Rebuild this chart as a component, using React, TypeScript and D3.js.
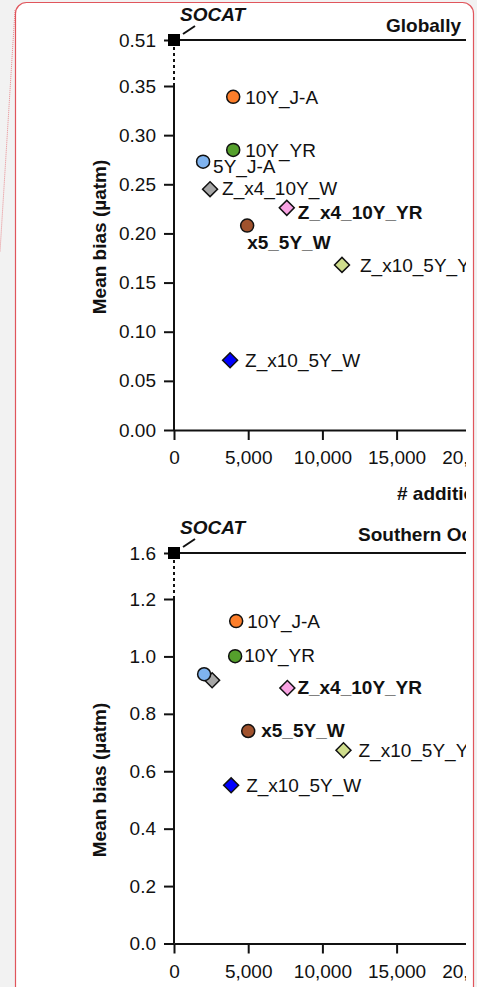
import * as d3 from "d3";
import { useEffect, useRef } from "react";

// runs shown in both panels
const runNames = ["10Y_J-A", "10Y_YR", "5Y_J-A", "Z_x4_10Y_W", "Z_x4_10Y_YR", "x5_5Y_W", "Z_x10_5Y_YR", "Z_x10_5Y_W"];
const runShapes = ["circle", "circle", "circle", "diamond", "diamond", "circle", "diamond", "diamond"];
const runColors = ["#fd7e2a", "#55a02c", "#7fb3ef", "#a6a6a6", "#f9a3e3", "#a0522d", "#cfdd8c", "#0000ff"];
const boldRuns = ["Z_x4_10Y_YR", "x5_5Y_W"];

// # additional observations / mean bias (uatm)
const globalObs = [3990, 3990, 1960, 2430, 7600, 4930, 11320, 3780];
const globalBias = [0.339, 0.285, 0.273, 0.245, 0.226, 0.208, 0.168, 0.071];
const southernObs = [4190, 4120, 2030, 2570, 7640, 5000, 11420, 3850];
const southernBias = [1.123, 1.001, 0.938, 0.917, 0.89, 0.74, 0.673, 0.551];
const southernLabelled = [true, true, false, false, true, true, true, true];

const socatGlobal = 0.51;
const socatSouthern = 1.6;

const xTicks = [0, 5000, 10000, 15000, 20000];
const globalTicks = [0, 0.05, 0.1, 0.15, 0.2, 0.25, 0.3, 0.35];
const southernTicks = [0, 0.2, 0.4, 0.6, 0.8, 1.0, 1.2];

// label offsets from the marker (layout only)
const globalOffsets = [[12, 7], [12, 7], [10, 11], [12, 6], [11, 11], [0, 23], [18, 7], [15, 7]];
const southernOffsets = [[11, 7], [9, 6], [0, 0], [0, 0], [10, 6], [13, 6], [15, 7], [15, 7]];

const W = 477;
const H = 987;
const FONT = "'Liberation Sans', Arial, sans-serif";

const App = () => {
    const svgRef = useRef(null);

    useEffect(() => {
        const svg = d3.select(svgRef.current);
        svg.selectAll("*").remove();

        svg.append("rect").attr("width", W).attr("height", H).attr("fill", "#f2f2f2");

        // card
        svg.append("line")
            .attr("x1", 15).attr("y1", 10).attr("x2", 0).attr("y2", 252)
            .attr("stroke", "#e98a8f").attr("stroke-width", 1)
            .attr("stroke-dasharray", "1,1");
        svg.append("rect")
            .attr("x", 15.5).attr("y", 2.5)
            .attr("width", 458).attr("height", 1010)
            .attr("rx", 11)
            .attr("fill", "#ffffff")
            .attr("stroke", "#e0555c").attr("stroke-width", 1.2);

        svg.append("clipPath").attr("id", "plotclip")
            .append("rect").attr("x", 0).attr("y", 0).attr("width", 466).attr("height", H + 100);

        const root = svg.append("g")
            .attr("clip-path", "url(#plotclip)")
            .attr("font-family", FONT);

        const x = d3.scaleLinear().domain([0, 20000]).range([174, 470.8]);

        const panels = [
            {
                title: "Globally", titleX: 461, titleAnchor: "end", titleY: 32,
                obs: globalObs, bias: globalBias, socat: socatGlobal,
                ticks: globalTicks, fmt: d3.format(".2f"),
                yRange: [430, 86, 40], labelled: runNames.map(() => true),
                offsets: globalOffsets, ylabY: 237, xTitleY: 500,
            },
            {
                title: "Southern Ocean", titleX: 358, titleAnchor: "start", titleY: 541,
                obs: southernObs, bias: southernBias, socat: socatSouthern,
                ticks: southernTicks, fmt: d3.format(".1f"),
                yRange: [943.5, 599, 553], labelled: southernLabelled,
                offsets: southernOffsets, ylabY: 780, xTitleY: 1014,
            },
        ];

        panels.forEach((p) => {
            const breakVal = p.ticks[p.ticks.length - 1];
            const y = d3.scaleLinear()
                .domain([0, breakVal, p.socat])
                .range(p.yRange);
            const g = root.append("g");

            // y axis
            const yAxis = d3.axisLeft(y)
                .tickValues([...p.ticks, p.socat])
                .tickFormat(p.fmt)
                .tickSize(10)
                .tickPadding(8);
            const ya = g.append("g").attr("transform", `translate(${x(0)},0)`).call(yAxis);
            ya.select(".domain").remove();
            ya.selectAll("line").attr("stroke", "#111").attr("stroke-width", 2);
            ya.selectAll("text").attr("font-size", 19).attr("fill", "#111").attr("font-family", FONT);

            g.append("line")
                .attr("x1", x(0)).attr("x2", x(0))
                .attr("y1", y(0)).attr("y2", y(breakVal))
                .attr("stroke", "#111").attr("stroke-width", 2);
            g.append("line")
                .attr("x1", x(0)).attr("x2", x(0))
                .attr("y1", y(breakVal)).attr("y2", y(p.socat))
                .attr("stroke", "#111").attr("stroke-width", 2)
                .attr("stroke-dasharray", "3,3");

            // x axis
            const xAxis = d3.axisBottom(x)
                .tickValues(xTicks)
                .tickFormat(d3.format(","))
                .tickSize(10)
                .tickSizeOuter(0)
                .tickPadding(11);
            const xa = g.append("g").attr("transform", `translate(0,${y(0)})`).call(xAxis);
            xa.select(".domain").attr("stroke", "#111").attr("stroke-width", 2);
            xa.selectAll("line").attr("stroke", "#111").attr("stroke-width", 2);
            xa.selectAll("text").attr("font-size", 19).attr("fill", "#111").attr("font-family", FONT);

            // SOCAT reference
            g.append("line")
                .attr("x1", x(0)).attr("x2", 470)
                .attr("y1", y(p.socat)).attr("y2", y(p.socat))
                .attr("stroke", "#111").attr("stroke-width", 2);
            g.append("path")
                .attr("d", d3.symbol(d3.symbolSquare, 144)())
                .attr("transform", `translate(${x(0)},${y(p.socat)})`)
                .attr("fill", "#000");
            g.append("line")
                .attr("x1", x(0) + 9).attr("y1", y(p.socat) - 6)
                .attr("x2", x(0) + 21).attr("y2", y(p.socat) - 14)
                .attr("stroke", "#111").attr("stroke-width", 2);
            g.append("text")
                .attr("x", x(0) + 6).attr("y", y(p.socat) - 19)
                .attr("font-size", 19).attr("font-weight", "bold").attr("font-style", "italic")
                .attr("fill", "#111")
                .text("SOCAT");

            g.append("text")
                .attr("x", p.titleX).attr("y", p.titleY)
                .attr("text-anchor", p.titleAnchor)
                .attr("font-size", 19).attr("font-weight", "bold").attr("fill", "#111")
                .text(p.title);

            g.append("text")
                .attr("transform", `translate(106,${p.ylabY}) rotate(-90)`)
                .attr("text-anchor", "middle")
                .attr("font-size", 19).attr("font-weight", "bold").attr("fill", "#111")
                .text("Mean bias (µatm)");

            g.append("text")
                .attr("x", 397).attr("y", p.xTitleY)
                .attr("font-size", 19).attr("font-weight", "bold").attr("fill", "#111")
                .text("# additional observations");

            // points (reverse order so earlier runs sit on top)
            const idx = d3.range(runNames.length).reverse();
            g.selectAll(".pt")
                .data(idx)
                .join("path")
                .attr("class", "pt")
                .attr("d", (i) => runShapes[i] === "circle"
                    ? d3.symbol(d3.symbolCircle, Math.PI * 6.5 * 6.5)()
                    : d3.symbol(d3.symbolSquare, 112)())
                .attr("transform", (i) => `translate(${x(p.obs[i])},${y(p.bias[i])})` +
                    (runShapes[i] === "diamond" ? " rotate(45)" : ""))
                .attr("fill", (i) => runColors[i])
                .attr("stroke", "#111")
                .attr("stroke-width", 1.5);

            g.selectAll(".lbl")
                .data(idx.filter((i) => p.labelled[i]))
                .join("text")
                .attr("class", "lbl")
                .attr("x", (i) => x(p.obs[i]) + p.offsets[i][0])
                .attr("y", (i) => y(p.bias[i]) + p.offsets[i][1])
                .attr("font-size", 19)
                .attr("font-weight", (i) => boldRuns.includes(runNames[i]) ? "bold" : "normal")
                .attr("fill", "#111")
                .text((i) => runNames[i]);
        });
    }, []);

    return (
        <div style={{ position: "fixed", left: 0, top: 0, width: W, height: H, overflow: "hidden" }}>
            <svg ref={svgRef} width={W} height={H} style={{ display: "block" }} />
        </div>
    );
};

export default App;
